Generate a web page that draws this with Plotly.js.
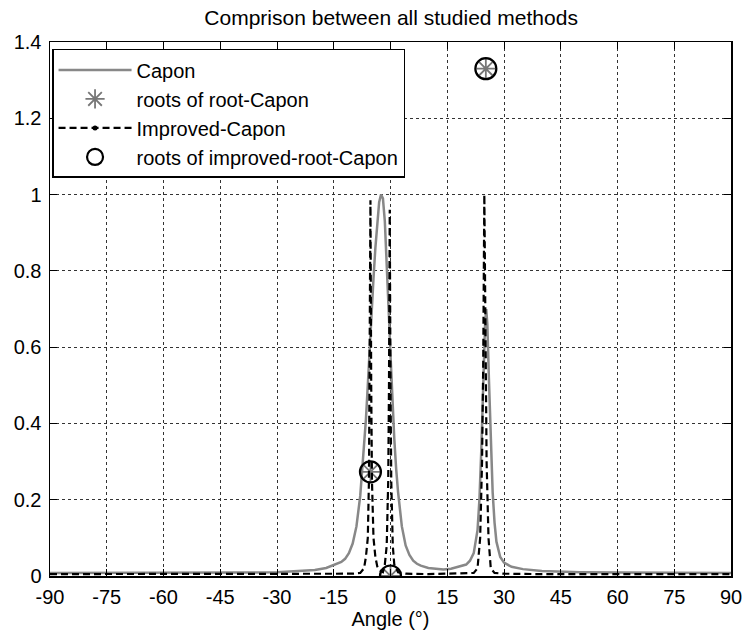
<!DOCTYPE html>
<html>
<head>
<meta charset="utf-8">
<script src="https://cdn.plot.ly/plotly-3.0.1.min.js"></script>
<style>html,body{margin:0;padding:0;background:#fff;}#chart{width:745px;height:639px;}</style>
</head>
<body>
<div id="chart"></div>
<script>
// Capon spectrum (gray solid)
const caponAngle = [-90,-60,-40,-30,-25,-20,-17,-15,-13,-12,-11,-10,-9,-8,-7.5,-7,-6.5,-6,-5.5,-5,-4.5,-4,-3.5,-3,-2.5,-2,-1.5,-1,-0.5,0,0.5,1,1.5,2,3,4,5,6,7,8,10,12,14,16,18,20,21,22,23,23.5,24,24.5,25,25.3,25.6,26,26.5,27,27.5,28,29,30,32,35,40,50,60,90];
const caponValue = [0.008,0.008,0.009,0.010,0.012,0.016,0.021,0.028,0.037,0.045,0.06,0.085,0.13,0.21,0.27,0.33,0.41,0.5,0.6,0.7,0.78,0.86,0.93,0.98,1.0,0.99,0.93,0.83,0.7,0.58,0.46,0.36,0.28,0.22,0.13,0.08,0.055,0.04,0.032,0.027,0.021,0.018,0.017,0.019,0.024,0.03,0.04,0.06,0.12,0.2,0.33,0.5,0.66,0.7,0.66,0.52,0.35,0.22,0.14,0.09,0.05,0.035,0.024,0.018,0.013,0.01,0.009,0.008];

// Improved-Capon spectrum (black dashed)
const improvedAngle = [-90,-40,-20,-10,-8,-7,-6.5,-6,-5.7,-5.5,-5.3,-5.1,-4.9,-4.5,-4,-3.5,-3,-2,-1.5,-1,-0.6,-0.4,-0.2,0,0.2,0.6,1,2,4,10,20,22,23,23.7,24.2,24.5,24.8,25.1,25.4,25.9,26.5,27.5,30,40,90];
const improvedValue = [0.005,0.005,0.005,0.006,0.008,0.02,0.05,0.1,0.25,0.5,0.985,0.5,0.25,0.1,0.05,0.025,0.015,0.01,0.03,0.08,0.25,0.5,0.96,0.5,0.25,0.08,0.03,0.01,0.006,0.005,0.006,0.008,0.02,0.1,0.3,0.55,1.0,0.55,0.3,0.1,0.02,0.008,0.006,0.005,0.005];

// Roots
const rootCaponAngle = [-5.3, 0, 25.2];
const rootCaponValue = [0.273, 0, 1.33];
const improvedRootAngle = [-5.3, 0, 25.2];
const improvedRootValue = [0.273, 0, 1.33];

const xTicks = [-90,-75,-60,-45,-30,-15,0,15,30,45,60,75,90];
const yTicks = [0,0.2,0.4,0.6,0.8,1,1.2,1.4];
const yTickText = ['0','0.2','0.4','0.6','0.8','1','1.2','1.4'];

const FAM = 'Liberation Sans, Arial, sans-serif';

const traces = [
  {x: caponAngle, y: caponValue, mode: 'lines', name: 'Capon',
   line: {color: '#888888', width: 2.5}},
  {x: rootCaponAngle, y: rootCaponValue, mode: 'markers', name: 'roots of root-Capon',
   marker: {symbol: 'asterisk-open', size: 16, color: '#777', line: {color: '#777', width: 1.8}}},
  {x: improvedAngle, y: improvedValue, mode: 'lines', name: 'Improved-Capon', showlegend: false,
   line: {color: '#000', width: 2.2, dash: '7px,4px'}},
  {x: [null], y: [null], mode: 'lines+markers', name: 'Improved-Capon',
   line: {color: '#000', width: 2.2, dash: '7px,4px'}, marker: {size: 5, color: '#000'}},
  {x: improvedRootAngle, y: improvedRootValue, mode: 'markers', name: 'roots of improved-root-Capon',
   marker: {symbol: 'circle-open', size: 21, color: '#000', line: {color: '#000', width: 2.2}}}
];

const axisFont = {family: FAM, size: 20, color: '#000'};

const layout = {
  width: 745, height: 639,
  margin: {l: 50, r: 14, t: 42, b: 63},
  paper_bgcolor: '#fff', plot_bgcolor: '#fff',
  font: {family: FAM, color: '#000'},
  title: {text: 'Comprison between all studied methods', x: 0.525, xanchor: 'center', y: 0.973, yanchor: 'middle',
          font: {family: FAM, size: 21, color: '#000'}},
  xaxis: {range: [-90, 90], tickvals: xTicks, ticktext: xTicks.map(String),
          ticks: 'inside', ticklen: 7, tickcolor: '#000', mirror: 'ticks',
          showline: true, linecolor: '#000', linewidth: 1.5,
          showgrid: true, gridcolor: '#333', griddash: 'dot', gridwidth: 1,
          zeroline: false, tickfont: axisFont, ticklabelstandoff: 2,
          title: {text: 'Angle (°)', font: {family: FAM, size: 20, color: '#000'}, standoff: 2}},
  yaxis: {range: [0, 1.4], tickvals: yTicks, ticktext: yTickText,
          ticks: 'inside', ticklen: 7, tickcolor: '#000', mirror: 'ticks',
          showline: true, linecolor: '#000', linewidth: 1.5,
          showgrid: true, gridcolor: '#333', griddash: 'dot', gridwidth: 1,
          zeroline: false, tickfont: axisFont, ticklabelstandoff: 3},
  legend: {x: 0.003, y: 0.987, xanchor: 'left', yanchor: 'top',
           bgcolor: '#fff', bordercolor: '#000', borderwidth: 1.5,
           font: {family: FAM, size: 20, color: '#000'},
           itemwidth: 73, tracegroupgap: 0},
  showlegend: true
};

Plotly.newPlot('chart', traces, layout, {displayModeBar: false, staticPlot: true});
</script>
</body>
</html>
